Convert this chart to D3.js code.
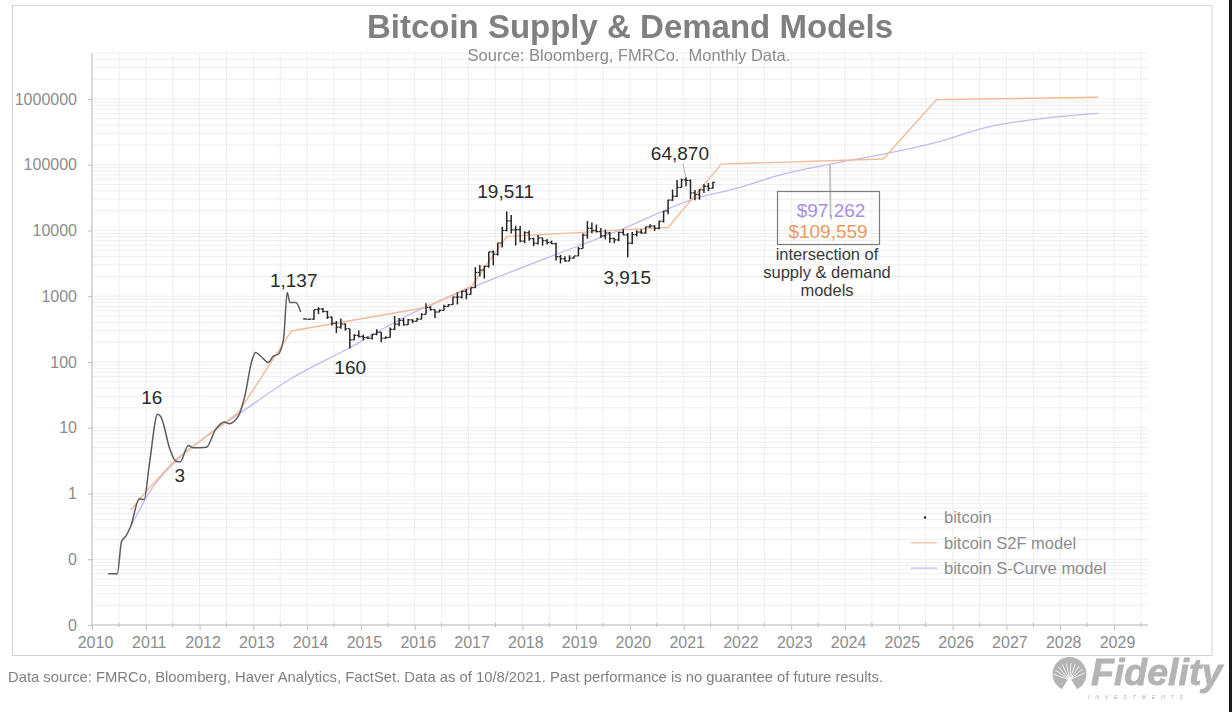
<!DOCTYPE html>
<html>
<head>
<meta charset="utf-8">
<script src="https://cdn.jsdelivr.net/npm/d3@7"></script>
<style>
html, body { margin: 0; padding: 0; background: #fff; }
svg { display: block; font-family: "Liberation Sans", Arial, sans-serif; filter: blur(0.4px); }
.grid line { stroke: #eeeeee; stroke-width: 1; }
.axis text { fill: #8c8c8c; font-size: 16px; font-family: "Liberation Sans", Arial, sans-serif; }
.axis line, .axis path { stroke: #bdbdbd; }
.note { fill: #2b2b2b; font-size: 19px; text-anchor: middle; }
.boxnote { fill: #3a3a3a; font-size: 16.5px; text-anchor: middle; }
.legend { fill: #8c8c8c; font-size: 16.5px; }
</style>
</head>
<body>
<div class="chart"></div>
<script>
// axis labels
var yearTicks = [2010, 2011, 2012, 2013, 2014, 2015, 2016, 2017, 2018, 2019, 2020, 2021, 2022, 2023, 2024, 2025, 2026, 2027, 2028, 2029];
var decadeTicks = [0.01, 0.1, 1, 10, 100, 1000, 10000, 100000, 1000000];
var decadeLabels = ["0", "0", "1", "10", "100", "1000", "10000", "100000", "1000000"];

// early bitcoin price, drawn as a line
var earlyYears = [2010.30, 2010.47, 2010.55, 2010.63, 2010.72, 2010.88, 2010.97, 2011.07, 2011.22, 2011.28, 2011.45, 2011.56, 2011.64, 2011.79, 2011.88, 2012.13, 2012.29, 2012.47, 2012.55, 2012.72, 2012.84, 2012.97, 2013.04, 2013.15, 2013.28, 2013.37, 2013.46, 2013.56, 2013.63, 2013.68, 2013.79, 2013.88];
var earlyPrice = [0.06, 0.06, 0.188, 0.224, 0.318, 0.83, 0.81, 2.93, 16, 14.7, 4.68, 3.1, 3.04, 5.38, 4.96, 5.07, 9.2, 12.2, 11.5, 15, 30, 103, 139, 120, 98, 123, 131, 221, 1137, 801, 801, 576];

// monthly bars, the first one sits at barStart on the x axis
var barStart = 2013.96;
var barOpen = [452, 445, 448, 628, 640, 585, 480, 388, 338, 378, 320, 217, 254, 244, 236, 230, 263, 284, 230, 236, 314, 377, 430, 368, 437, 416, 448, 530, 673, 624, 575, 610, 700, 745, 970, 970, 1190, 1070, 1350, 2300, 2500, 2850, 4730, 4340, 6450, 10000, 14000, 10200, 10300, 6900, 9240, 7500, 6400, 7700, 7000, 6600, 6300, 4000, 3700, 3440, 3800, 4100, 5300, 8500, 10800, 10000, 9600, 8300, 9150, 7550, 7200, 9350, 8550, 6400, 8650, 9450, 9150, 11350, 11650, 10800, 13800, 19700, 29000, 33100, 45200, 58800, 57700, 37300, 35000, 41500, 47100, 43800];
var barHigh = [458, 455, 620, 680, 660, 600, 490, 420, 460, 385, 320, 265, 300, 260, 245, 268, 315, 285, 245, 335, 500, 465, 465, 450, 445, 470, 550, 780, 705, 625, 630, 740, 760, 980, 1150, 1210, 1290, 1350, 2760, 2980, 2915, 4750, 4980, 6470, 11400, 19511, 17200, 11800, 11700, 9750, 10000, 7750, 8500, 7750, 7400, 7000, 6500, 4250, 4050, 4200, 4100, 5600, 9000, 13900, 13200, 12300, 10900, 10350, 9500, 7750, 9550, 10500, 9150, 9450, 10050, 10400, 11400, 12450, 12050, 14100, 19800, 29300, 41950, 58300, 61800, 64870, 59500, 41300, 42500, 50500, 52900, 55000];
var barLow = [445, 440, 440, 535, 565, 450, 360, 275, 320, 300, 160, 215, 235, 214, 225, 220, 255, 200, 225, 235, 305, 350, 355, 365, 390, 415, 445, 530, 605, 465, 570, 605, 690, 740, 750, 920, 900, 1060, 1330, 2000, 1850, 2700, 2950, 4160, 5500, 9700, 9000, 5900, 6600, 6420, 7000, 5750, 6100, 5880, 6100, 6200, 3500, 3150, 3350, 3400, 3700, 4100, 5300, 7500, 9100, 9350, 7700, 7300, 6500, 6400, 6850, 8500, 3915, 6150, 8100, 8900, 8950, 11000, 9850, 10400, 13200, 17600, 28100, 32300, 45000, 47000, 30000, 28800, 29300, 37300, 39600, 43300];
var barClose = [450, 448, 625, 640, 585, 480, 388, 338, 378, 320, 217, 254, 244, 236, 230, 263, 284, 230, 236, 314, 377, 430, 368, 437, 416, 448, 530, 673, 624, 575, 610, 700, 745, 970, 970, 1190, 1070, 1350, 2300, 2500, 2850, 4730, 4340, 6450, 10000, 14000, 10200, 10300, 6900, 9240, 7500, 6400, 7700, 7000, 6600, 6300, 4000, 3700, 3440, 3800, 4100, 5300, 8500, 10800, 10000, 9600, 8300, 9150, 7550, 7200, 9350, 8550, 6400, 8650, 9450, 9150, 11350, 11650, 10800, 13800, 19700, 29000, 33100, 45200, 58800, 57700, 37300, 35000, 41500, 47100, 43800, 53900];

// stock to flow model
var s2fYears = [2010.72, 2010.97, 2011.56, 2012.72, 2013.71, 2015.91, 2016.22, 2017.06, 2017.71, 2019.13, 2019.82, 2020.71, 2021.70, 2024.71, 2025.70, 2028.71];
var s2fValues = [0.557, 1.0, 3.3, 17, 296, 612, 680, 1436, 8100, 9340, 10200, 11100, 102000, 122000, 977000, 1060000];

// s-curve model
var curveYears = [2010.74, 2011.08, 2011.56, 2012.13, 2012.72, 2013.68, 2014.80, 2015.91, 2017.06, 2018.64, 2019.82, 2021.18, 2022.05, 2022.73, 2023.72, 2024.80, 2025.70, 2026.63, 2027.74, 2028.71];
var curveValues = [0.337, 1.08, 3.1, 7.46, 16, 54.5, 166, 532, 1356, 4365, 10200, 30000, 45200, 67900, 102000, 150000, 219000, 370000, 513000, 603000];

// callouts on the price
var noteText = ["16", "3", "1,137", "160", "19,511", "3,915", "64,870"];
var noteYear = [2011.11, 2011.63, 2013.75, 2014.80, 2017.69, 2019.95, 2020.93];
var noteValue = [29, 1.9, 1740, 84, 39800, 1950, 148000];

var width = 1232,
    height = 712;

var svg = d3.select("div.chart")
    .append("svg")
    .attr("width", width)
    .attr("height", height);

var x = d3.scaleLinear().domain([2010, 2029]).range([92, 1114]);
var y = d3.scaleLog().domain([0.01, 5000000]).range([625, 53]);
var xEnd = 1148;

// page frame and the dark strip on the right of the screenshot
svg.append("rect").attr("x", 12.5).attr("y", 5.5).attr("width", 1199.5).attr("height", 650)
    .attr("fill", "#fff").attr("stroke", "#d4d4d4").attr("stroke-width", 1);
svg.append("rect").attr("x", 1229).attr("y", 0).attr("width", 3).attr("height", height).attr("fill", "#1c1c1c");

// grid
var halfYears = d3.range(0, 40).map(function(i){ return 2010 + i / 2; });
var minorValues = [];
decadeTicks.forEach(function(d){
    for (var m = 1; m < 10; m++){
        if (d * m <= 5000000) minorValues.push(d * m);
    }
});

var grid = svg.append("g").attr("class", "grid");
grid.selectAll(".v").data(halfYears).enter().append("line")
    .attr("x1", function(d){ return x(d); })
    .attr("x2", function(d){ return x(d); })
    .attr("y1", y(5000000))
    .attr("y2", y(0.01));
grid.selectAll(".h").data(minorValues).enter().append("line")
    .attr("x1", x(2010))
    .attr("x2", xEnd)
    .attr("y1", function(d){ return y(d); })
    .attr("y2", function(d){ return y(d); });

// axes
var xAxis = svg.append("g").attr("class", "axis")
    .attr("transform", "translate(0,625)")
    .call(d3.axisBottom(x).tickValues(yearTicks).tickFormat(d3.format("d")).tickSize(5).tickPadding(7));
xAxis.select(".domain").attr("d", "M92,0H" + xEnd);
xAxis.selectAll("text").attr("dx", 3);
xAxis.selectAll(".minor").data(yearTicks).enter().append("line")
    .attr("x1", function(d){ return x(d + 0.5); })
    .attr("x2", function(d){ return x(d + 0.5); })
    .attr("y1", -2)
    .attr("y2", 2);

var yAxis = svg.append("g").attr("class", "axis")
    .attr("transform", "translate(92,0)")
    .call(d3.axisLeft(y).tickValues(decadeTicks).tickFormat(function(d, i){ return decadeLabels[i]; }).tickSize(4).tickPadding(11));
yAxis.select(".domain").attr("stroke", "#e2e2e2").attr("d", "M0,53V625");

// model lines
var modelLine = d3.line()
    .x(function(d){ return x(d[0]); })
    .y(function(d){ return y(d[1]); });

svg.append("path")
    .datum(d3.zip(curveYears, curveValues))
    .attr("fill", "none")
    .attr("stroke", "#c5b9ee")
    .attr("stroke-width", 1.3)
    .attr("d", modelLine.curve(d3.curveMonotoneX));

svg.append("path")
    .datum(d3.zip(s2fYears, s2fValues))
    .attr("fill", "none")
    .attr("stroke", "#f2bb98")
    .attr("stroke-width", 1.4)
    .attr("d", modelLine.curve(d3.curveLinear));

// early price line
svg.append("path")
    .datum(d3.zip(earlyYears, earlyPrice))
    .attr("fill", "none")
    .attr("stroke", "#5c5c5c")
    .attr("stroke-width", 1.5)
    .attr("d", modelLine.curve(d3.curveMonotoneX));

// monthly bars
function barX(i){ return x(barStart + i / 12); }

var bars = svg.append("g").attr("stroke", "#262626");
bars.selectAll(".hl").data(barHigh).enter().append("line")
    .attr("x1", function(d, i){ return barX(i); })
    .attr("x2", function(d, i){ return barX(i); })
    .attr("y1", function(d){ return y(d); })
    .attr("y2", function(d, i){ return y(barLow[i]); })
    .attr("stroke-width", 1.5);
bars.selectAll(".op").data(barOpen).enter().append("line")
    .attr("x1", function(d, i){ return barX(i) - 2; })
    .attr("x2", function(d, i){ return barX(i); })
    .attr("y1", function(d){ return y(d); })
    .attr("y2", function(d){ return y(d); })
    .attr("stroke-width", 1.2);
bars.selectAll(".cl").data(barClose).enter().append("line")
    .attr("x1", function(d, i){ return barX(i); })
    .attr("x2", function(d, i){ return barX(i) + 2; })
    .attr("y1", function(d){ return y(d); })
    .attr("y2", function(d){ return y(d); })
    .attr("stroke-width", 1.2);

// price callouts
svg.selectAll(".note").data(noteText).enter().append("text")
    .attr("class", "note")
    .attr("x", function(d, i){ return x(noteYear[i]); })
    .attr("y", function(d, i){ return y(noteValue[i]); })
    .attr("dy", "0.35em")
    .text(function(d){ return d; });

svg.append("line").attr("x1", 683).attr("y1", 164).attr("x2", 686).attr("y2", 178)
    .attr("stroke", "#b5b5b5").attr("stroke-width", 1);

// intersection box
svg.append("line").attr("x1", 830).attr("y1", 165).attr("x2", 830.5).attr("y2", 216)
    .attr("stroke", "#c4c4c4").attr("stroke-width", 2);
svg.append("rect").attr("x", 777.5).attr("y", 191.5).attr("width", 102).attr("height", 53)
    .attr("fill", "none").attr("stroke", "#7d7d7d").attr("stroke-width", 1.2);
svg.append("text").attr("x", 831).attr("y", 217).attr("text-anchor", "middle")
    .attr("font-size", 19).attr("fill", "#a98de2").text("$97,262");
svg.append("text").attr("x", 828).attr("y", 238).attr("text-anchor", "middle")
    .attr("font-size", 19).attr("fill", "#e89b62").text("$109,559");
svg.selectAll(".boxnote").data(["intersection of", "supply & demand", "models"]).enter().append("text")
    .attr("class", "boxnote")
    .attr("x", 827)
    .attr("y", function(d, i){ return 260 + i * 18; })
    .text(function(d){ return d; });

// legend
var legendNames = ["bitcoin", "bitcoin S2F model", "bitcoin S-Curve model"];
var legendColors = [null, "#f2bb98", "#c5b9ee"];
var legend = svg.selectAll(".legendrow").data(legendNames).enter().append("g")
    .attr("transform", function(d, i){ return "translate(0," + (517.5 + i * 25.3) + ")"; });
legend.append("text").attr("class", "legend").attr("x", 944).attr("dy", "0.35em")
    .text(function(d){ return d; });
legend.filter(function(d, i){ return i > 0; }).append("line")
    .attr("x1", 911).attr("x2", 937)
    .attr("stroke", function(d){ return legendColors[legendNames.indexOf(d)]; })
    .attr("stroke-width", 1.2);
legend.filter(function(d, i){ return i == 0; }).append("circle")
    .attr("cx", 925).attr("r", 1.2).attr("fill", "#222");

// headings
svg.append("text").attr("x", 630).attr("y", 38).attr("text-anchor", "middle")
    .attr("font-size", 33).attr("font-weight", "bold").attr("fill", "#808080")
    .text("Bitcoin Supply & Demand Models");
svg.append("text").attr("x", 629).attr("y", 61).attr("text-anchor", "middle")
    .attr("font-size", 16.5).attr("fill", "#8c8c8c").attr("xml:space", "preserve")
    .text("Source: Bloomberg, FMRCo.  Monthly Data.");
svg.append("text").attr("x", 8).attr("y", 682)
    .attr("font-size", 14.8).attr("fill", "#7f7f7f")
    .text("Data source: FMRCo, Bloomberg, Haver Analytics, FactSet. Data as of 10/8/2021. Past performance is no guarantee of future results.");

// logo
var logo = svg.append("g");
logo.append("circle").attr("cx", 1069.5).attr("cy", 674).attr("r", 17).attr("fill", "#b4b4b4");
d3.range(-160, -10, 15).forEach(function(deg){
    var r = deg * Math.PI / 180;
    logo.append("line")
        .attr("x1", 1069.5).attr("y1", 680)
        .attr("x2", 1069.5 + 17 * Math.cos(r)).attr("y2", 680 + 17 * Math.sin(r))
        .attr("stroke", "#fff").attr("stroke-width", 0.8);
});
logo.append("path").attr("d", "M1069.5,677L1060,692H1079Z").attr("fill", "#fff");
logo.append("text").attr("x", 1091).attr("y", 685)
    .attr("font-size", 37.5).attr("font-weight", "bold").attr("font-style", "italic")
    .attr("fill", "#b4b4b4").attr("stroke", "#b4b4b4").attr("stroke-width", 0.8)
    .text("Fidelity");
logo.append("text").attr("x", 1088).attr("y", 699)
    .attr("font-size", 5.5).attr("font-style", "italic").attr("letter-spacing", 5.6).attr("fill", "#b4b4b4")
    .text("INVESTMENTS");
</script>
</body>
</html>
